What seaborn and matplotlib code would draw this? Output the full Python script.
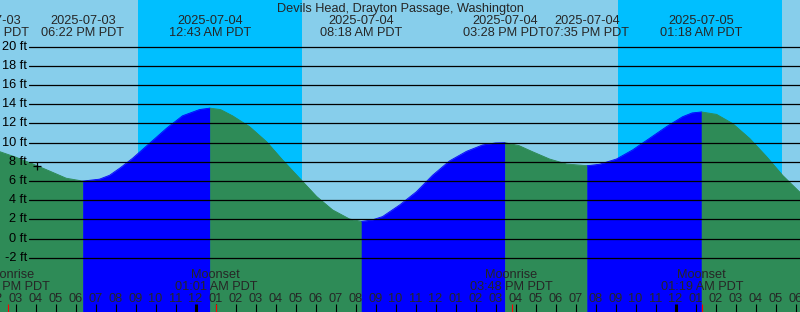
import numpy as np
import pandas as pd
import matplotlib
matplotlib.use("Agg")
import matplotlib.pyplot as plt
import seaborn as sns

# ---------------- data ----------------
title = "Devils Head, Drayton Passage, Washington"

curve_times = [
    "2025-07-03 14:10", "2025-07-03 15:00", "2025-07-03 15:51", "2025-07-03 16:42",
    "2025-07-03 17:32", "2025-07-03 18:22", "2025-07-03 19:12", "2025-07-03 19:42",
    "2025-07-03 20:15", "2025-07-03 20:51", "2025-07-03 21:42", "2025-07-03 22:33",
    "2025-07-03 23:21", "2025-07-04 00:12", "2025-07-04 00:43", "2025-07-04 01:15",
    "2025-07-04 01:51", "2025-07-04 02:42", "2025-07-04 03:33", "2025-07-04 04:21",
    "2025-07-04 05:12", "2025-07-04 06:03", "2025-07-04 06:51", "2025-07-04 07:42",
    "2025-07-04 08:18", "2025-07-04 08:50", "2025-07-04 09:21", "2025-07-04 10:12",
    "2025-07-04 11:03", "2025-07-04 11:51", "2025-07-04 12:42", "2025-07-04 13:33",
    "2025-07-04 14:21", "2025-07-04 15:00", "2025-07-04 15:28", "2025-07-04 16:10",
    "2025-07-04 16:51", "2025-07-04 17:42", "2025-07-04 18:33", "2025-07-04 19:35",
    "2025-07-04 20:12", "2025-07-04 21:03", "2025-07-04 21:51", "2025-07-04 22:42",
    "2025-07-04 23:33", "2025-07-05 00:21", "2025-07-05 00:50", "2025-07-05 01:18",
    "2025-07-05 02:03", "2025-07-05 02:51", "2025-07-05 03:42", "2025-07-05 04:33",
    "2025-07-05 05:21", "2025-07-05 06:14",
]
curve_heights = [
    9.1, 8.5, 7.8, 7.05,
    6.3, 6.0, 6.2, 6.6,
    7.4, 8.37, 9.93, 11.5,
    12.8, 13.45, 13.6, 13.45,
    12.8, 11.67, 10.1, 8.2,
    6.3, 4.4, 3.0, 2.05,
    1.8, 1.95, 2.3, 3.5,
    4.9, 6.6, 8.1, 9.1,
    9.76, 9.97, 10.0, 9.7,
    9.06, 8.3, 7.78, 7.6,
    7.75, 8.3, 9.24, 10.45,
    11.67, 12.7, 13.1, 13.2,
    12.95, 12.0, 10.45, 8.55,
    6.6, 4.8,
]

tide_times = ["2025-07-03 13:37", "2025-07-03 18:22", "2025-07-04 00:43",
              "2025-07-04 08:18", "2025-07-04 15:28", "2025-07-04 19:35",
              "2025-07-05 01:18"]

moon_times = ["2025-07-03 14:38", "2025-07-04 01:01", "2025-07-04 15:48", "2025-07-05 01:19"]
moon_events = ["Moonrise", "Moonset", "Moonrise", "Moonset"]

sunset_times = ["2025-07-03 21:08", "2025-07-04 21:08"]
sunrise_times = ["2025-07-04 05:20", "2025-07-05 05:20"]

now_time = "2025-07-03 16:04"
now_height = 7.6

levels = list(range(-2, 21, 2))

# ---------------- helpers ----------------
REF = pd.Timestamp("2025-07-04 00:00")
W, H = 800, 312
XMIN, XMAX = -9.775, 30.225
YMIN, YMAX = -7.64, 24.86


def hrs(ts):
    return (pd.to_datetime(ts) - REF) / pd.Timedelta(hours=1)


def fy(px):  # pixel row -> axes fraction
    return 1 - px / H


SKY = "#87CEEB"
NIGHT = "#00BFFF"
FALL = "#2E8B57"
RISE = "#0000FF"
FONT = ["Liberation Sans", "DejaVu Sans"]
FS = 9.2

sns.set_style("white")
plt.rcParams["font.family"] = FONT

fig = plt.figure(figsize=(W / 100, H / 100), dpi=100)
ax = fig.add_axes([0, 0, 1, 1])
ax.set_facecolor(SKY)
ax.set_xlim(XMIN, XMAX)
ax.set_ylim(YMIN, YMAX)
for s in ax.spines.values():
    s.set_visible(False)
ax.set_xticks([])
ax.set_yticks([])

# night bands
for a, b in zip(sunset_times, sunrise_times):
    ax.axvspan(hrs(a), hrs(b), color=NIGHT, lw=0, zorder=0.5)

# tide curve: split into rising / falling runs
x = np.array([hrs(t) for t in curve_times])
y = np.array(curve_heights, dtype=float)
rows = []
run = 0
prev = None
for i in range(len(x) - 1):
    rising = y[i + 1] > y[i]
    if prev is not None and rising != prev:
        run += 1
    prev = rising
    phase = "rise" if rising else "fall"
    rows.append((x[i], y[i], phase, run))
    rows.append((x[i + 1], y[i + 1], phase, run))
df = pd.DataFrame(rows, columns=["h", "ft", "phase", "run"]).drop_duplicates()

pal = {"rise": RISE, "fall": FALL}
for r, g in df.groupby("run"):
    c = pal[g["phase"].iloc[0]]
    ax.fill_between(g["h"], g["ft"], YMIN, color=c, lw=0.4, edgecolor=c, zorder=2)
sns.lineplot(data=df, x="h", y="ft", hue="phase", units="run", estimator=None,
             palette=pal, linewidth=0.6, legend=False, ax=ax, zorder=3, sort=False)
ax.set_xlabel("")
ax.set_ylabel("")

# grid lines and labels
for lv in levels:
    ax.axhline(lv, xmin=29 / W, xmax=1, color="black", lw=0.9, zorder=4)
    ax.text(27 / W, lv, f"{lv} ft", transform=ax.get_yaxis_transform(), ha="right",
            va="center", fontsize=FS, color="black", zorder=5)

# current time marker
ax.plot([hrs(now_time)], [now_height], marker="+", color="black", ms=6, mew=0.9, zorder=5)

xt = ax.get_xaxis_transform()

# title
ax.text(0.5, fy(12), title, transform=ax.transAxes, ha="center", va="baseline",
        fontsize=FS, zorder=6)

# tide labels
for t in tide_times:
    ts = pd.Timestamp(t)
    hx = hrs(t)
    ax.text(hx, fy(23.5), ts.strftime("%Y-%m-%d"), transform=xt, ha="center",
            va="baseline", fontsize=FS, zorder=6)
    ax.text(hx, fy(36), ts.strftime("%I:%M %p") + " PDT", transform=xt, ha="center",
            va="baseline", fontsize=FS, zorder=6)

# moon labels
for t, ev in zip(moon_times, moon_events):
    ts = pd.Timestamp(t)
    hx = hrs(t)
    ax.text(hx, fy(278.5), ev, transform=xt, ha="center", va="baseline",
            fontsize=FS, zorder=6)
    ax.text(hx, fy(290), ts.strftime("%I:%M %p") + " PDT", transform=xt,
            ha="center", va="baseline", fontsize=FS, zorder=6)

# hour ticks
for hh in range(int(np.floor(XMIN)), int(np.ceil(XMAX)) + 1):
    hod = hh % 24
    lab = f"{(hod + 11) % 12 + 1:02d}"
    ax.text(hh, fy(301.7), lab, transform=xt, ha="center", va="baseline",
            fontsize=FS, zorder=6)
    lw = 2.2 if hod == 0 else 0.8
    ax.plot([hh, hh], [0, 8 / H], transform=xt, color="black", lw=lw, zorder=6,
            solid_capstyle="butt")
for t in moon_times:
    hx = hrs(t)
    ax.plot([hx, hx], [0, 8 / H], transform=xt, color="red", lw=0.8, zorder=7,
            solid_capstyle="butt")

fig.savefig("out.png", dpi=100)
